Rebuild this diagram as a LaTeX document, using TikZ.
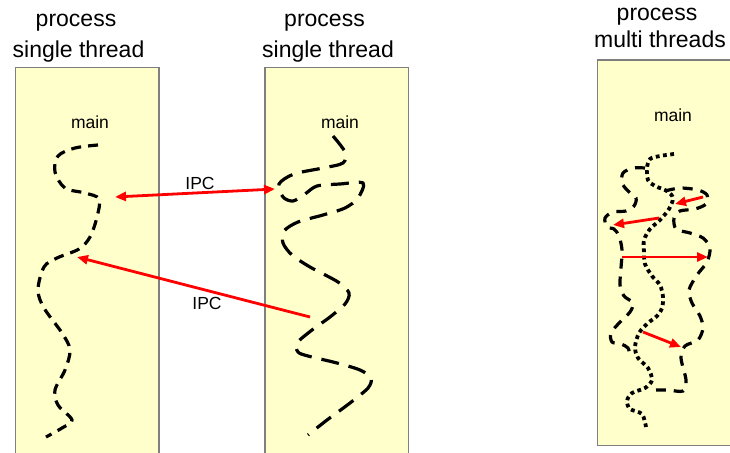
\documentclass[tikz,border=0pt]{standalone}
\usepackage{fontspec}
\setmainfont{Liberation Sans}
\usetikzlibrary{arrows.meta}
\definecolor{boxfill}{HTML}{FFFFCC}
\definecolor{boxline}{HTML}{7F7F7F}
\tikzset{
  procbox/.style={fill=boxfill,draw=boxline,line width=1.2pt},
  titletext/.style={font=\fontsize{23}{27}\selectfont,anchor=base,inner sep=0pt},
  smalltext/.style={font=\fontsize{17.5}{20}\selectfont,inner sep=0pt},
  threadA/.style={line width=3.2pt,dash pattern=on 10pt off 7pt,line cap=butt},
  threadB/.style={line width=3.2pt,dash pattern=on 18pt off 10pt,line cap=butt},
  threadC/.style={line width=3.2pt,dash pattern=on 10pt off 8pt,line cap=butt},
  threadDot/.style={line width=3.8pt,dash pattern=on 3.8pt off 3.5pt,line cap=butt},
  ipc/.style={draw=red,line width=2.8pt,-{Triangle[length=11pt,width=9pt]}},
  ipcboth/.style={draw=red,line width=2.8pt,{Triangle[length=11pt,width=9pt]}-{Triangle[length=11pt,width=9pt]}}
}
\begin{document}
\begin{tikzpicture}[x=1pt,y=-1pt]
\useasboundingbox (0,0) rectangle (730,452);
% boxes
\path[procbox] (15.7,67.7) rectangle (159,460);
\path[procbox] (265,67.7) rectangle (408.3,460);
\path[procbox] (597.3,60) rectangle (740,445.7);
% titles
\node[titletext] (t1a) at (76,27) {process};
\node[titletext] (t1b) at (78.5,57) {single thread};
\node[titletext] (t2a) at (324.5,27) {process};
\node[titletext] (t2b) at (328,57) {single thread};
\node[titletext] (t3a) at (657,21) {process};
\node[titletext] (t3b) at (660,48) {multi threads};
% main labels
\node[smalltext] (m1) at (90,122) {main};
\node[smalltext] (m2) at (340,122) {main};
\node[smalltext] (m3) at (673,115) {main};
% threads box 1
\draw[threadA] plot[smooth,tension=0.55] coordinates {(98,145) (75,148) (58,156) (55,172) (65,188) (85,193) (99,199) (97,217) (90,237) (79,249) (57,258) (44,267) (38,290) (44,308) (62,333) (70,350) (65,370) (55,390) (58,405) (72,420) (62,428) (46,437)};
% threads box 2
\draw[threadB] plot[smooth,tension=0.5] coordinates {(333,136) (345,152) (343,163) (323,168) (294,174) (279,184) (283,197) (293,201) (305,194) (317,186) (340,184) (363,183) (358,198) (345,208) (323,215) (298,222) (284,231) (283,243) (292,255) (310,267) (338,282) (349,293) (345,304) (330,317) (312,330) (297,343) (298,352) (308,356) (337,363) (360,370) (371,378) (368,388) (350,403) (327,420) (308,435)};
% threads box 3
\draw[threadDot] plot[smooth,tension=0.5] coordinates {(674,154) (660,156) (650,159) (647,168) (648,180) (655,186) (667,191) (673,198) (669,209) (660,220) (650,229) (644,240) (644,252) (645,264) (652,276) (660,285) (663,297) (662,308) (657,316) (648,323) (639,333) (635,347) (638,358) (648,368) (652,380) (645,388) (632,393) (627,401) (630,409) (642,414) (646,427)};
\draw[threadC] plot[smooth,tension=0.5] coordinates {(645,168) (633,168) (623,173) (622,183) (628,191) (636,198) (634,206) (626,211) (613,212) (605,218) (607,227) (614,229) (619,236) (622,250) (621,268) (620,285) (624,296) (633,303) (630,312) (620,322) (611,333) (612,342) (621,344) (628,348) (630,356)};
\draw[threadC] plot[smooth,tension=0.5] coordinates {(665,191) (680,188) (698,190) (707,195) (706,204) (695,209) (680,211) (674,218) (676,229) (690,233) (703,238) (710,248) (707,262) (697,275) (689,290) (692,303) (700,316) (703,328) (698,340) (685,346) (681,358) (686,380) (683,391) (668,390) (656,390)};
% arrow end points
\coordinate (p1a) at (115,197);
\coordinate (p1b) at (275,189);
\coordinate (p2a) at (310,317);
\coordinate (p2b) at (77,257);
\coordinate (a1s) at (703,197);
\coordinate (a1e) at (675,204);
\coordinate (a2s) at (659,218);
\coordinate (a2e) at (613,225);
\coordinate (a3s) at (622,257);
\coordinate (a3e) at (708,257);
\coordinate (a4s) at (643,332);
\coordinate (a4e) at (681,347);
\draw[ipcboth] (p1a) -- (p1b);
\draw[ipc] (p2a) -- (p2b);
\node[smalltext] (ipc1) at (200,183) {IPC};
\node[smalltext] (ipc2) at (207,303) {IPC};
\draw[ipc] (a1s) -- (a1e);
\draw[ipc] (a2s) -- (a2e);
\draw[ipc] (a3s) -- (a3e);
\draw[ipc] (a4s) -- (a4e);
\end{tikzpicture}
\end{document}
